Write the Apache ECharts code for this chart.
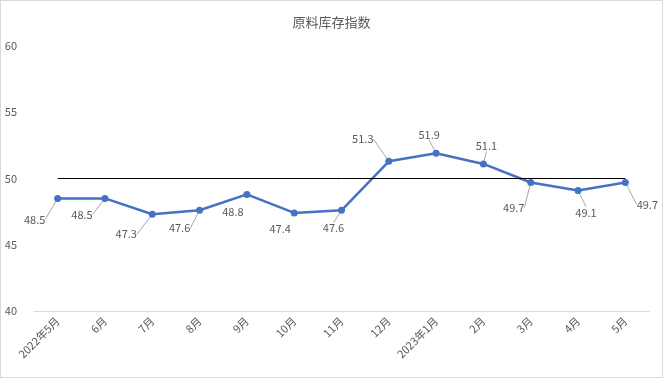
<!DOCTYPE html>
<html><head><meta charset="utf-8">
<script src="https://cdn.jsdelivr.net/npm/echarts@6/dist/echarts.min.js"></script>
<style>
html,body{margin:0;padding:0;background:#fff;}
#wrap{width:663px;height:378px;box-sizing:border-box;border:1px solid #d9d9d9;position:relative;}
#c{position:absolute;left:-1px;top:-1px;width:663px;height:378px;}
</style></head>
<body><div id="wrap"><div id="c"></div></div>
<script>
const title = '原料库存指数';
const categories = ['2022年5月','6月','7月','8月','9月','10月','11月','12月','2023年1月','2月','3月','4月','5月'];
const values = [48.5, 48.5, 47.3, 47.6, 48.8, 47.4, 47.6, 51.3, 51.9, 51.1, 49.7, 49.1, 49.7];
const referenceLevel = 50;
const yTicks = {min: 40, max: 60, interval: 5};
// label displacement from each point (dx, dy) in px, and whether a leader line is drawn
const labelShift = [[-23,21],[-23,16],[-26,20],[-20,18],[-14,17],[-14,16],[-8,18],[-26,-22],[-7,-19],[3,-18],[-17,25],[8,22],[22,22]];
const leaderShown = [true, true, true, true, false, false, true, true, true, true, true, true, true];

const chart = echarts.init(document.getElementById('c'));
chart.setOption({
  animation: false,
  backgroundColor: 'transparent',
  title: {text: title, left: 'center', top: 11, textStyle: {fontFamily: 'Noto Sans CJK SC', fontSize: 13, fontWeight: 'normal', color: '#595959'}},
  grid: {left: 34, right: 14, top: 46, bottom: 67},
  xAxis: {
    type: 'category', data: categories, boundaryGap: true,
    axisLine: {show: true, lineStyle: {color: '#d9d9d9', width: 1}},
    axisTick: {show: false},
    axisLabel: {rotate: 45, color: '#595959', fontSize: 11, fontFamily: 'Noto Sans CJK SC', margin: 8, interval: 0}
  },
  yAxis: {
    type: 'value', min: yTicks.min, max: yTicks.max, interval: yTicks.interval,
    axisLine: {show: false}, axisTick: {show: false}, splitLine: {show: false},
    axisLabel: {color: '#595959', fontSize: 11, fontFamily: 'Noto Sans CJK SC', margin: 17}
  },
  series: [{
    type: 'line',
    data: values.map((v, i) => ({value: v, labelLine: {show: leaderShown[i]}})),
    symbol: 'circle', symbolSize: 7,
    lineStyle: {color: '#4472C4', width: 2.5},
    itemStyle: {color: '#4472C4'},
    label: {show: true, position: 'inside', color: '#595959', fontSize: 11, fontFamily: 'Noto Sans CJK SC',
      formatter: p => p.value.toFixed(1)},
    labelLine: {show: true, lineStyle: {color: '#a6a6a6', width: 1}},
    labelLayout: function (p) {
      const s = labelShift[p.dataIndex];
      return {dx: s[0], dy: s[1]};
    },
    markLine: {
      silent: true, symbol: 'none', label: {show: false},
      lineStyle: {color: '#000', width: 1, type: 'solid'},
      data: [[{coord: [0, referenceLevel]}, {coord: [categories.length - 1, referenceLevel]}]]
    },
    z: 3
  }]
});
</script></body></html>
